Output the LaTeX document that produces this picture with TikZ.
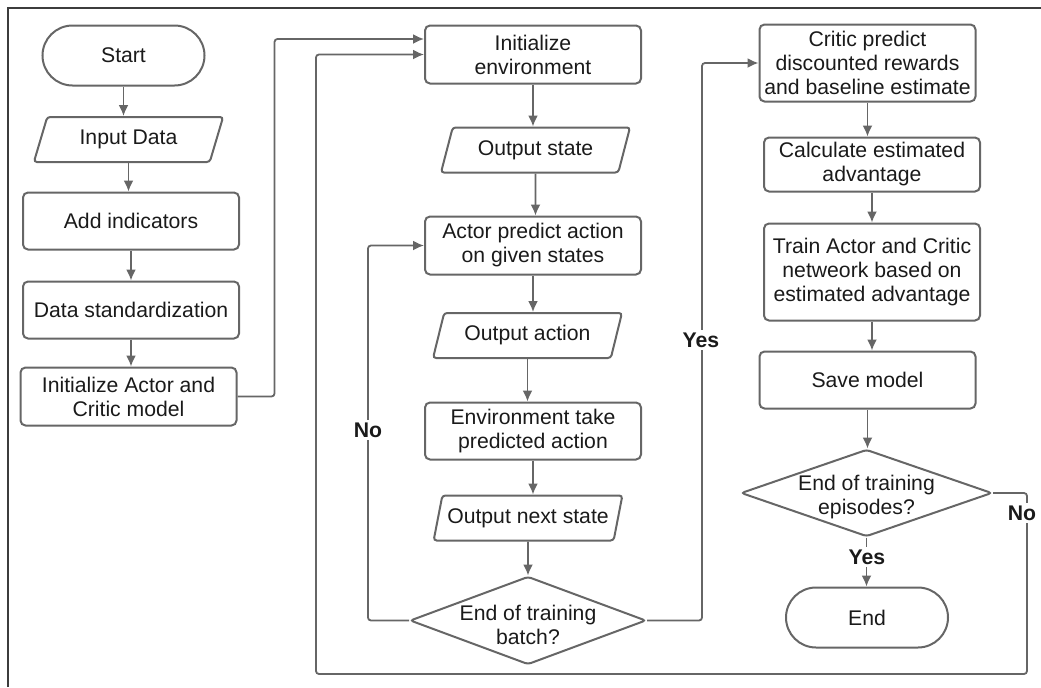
\documentclass[tikz,border=0pt]{standalone}
\usepackage{fontspec}
\setmainfont{Liberation Sans}
\usetikzlibrary{shapes.geometric, arrows.meta}
\newcommand{\flowfont}{\fontsize{10.6pt}{12pt}\selectfont}
\definecolor{linegray}{HTML}{666666}
\definecolor{framegray}{HTML}{3C3C3C}
\definecolor{textgray}{HTML}{1A1A1A}
\tikzset{
    box/.style={draw=linegray, line width=1pt, rounded corners=2.5pt, align=center,
        text=textgray, font=\flowfont, inner sep=1pt},
    terminal/.style={box, rounded corners=15pt, minimum width=81pt, minimum height=30pt},
    process/.style={box, minimum width=108pt, minimum height=28.5pt},
    io/.style={box, trapezium, trapezium left angle=70, trapezium right angle=110,
        trapezium stretches=true, minimum width=95pt, minimum height=22.5pt, rounded corners=1.5pt},
    decision/.style={box, diamond, inner sep=0pt, rounded corners=1.5pt},
    dtext/.style={align=center, font=\flowfont, text=textgray, yshift=-2pt},
    answer/.style={font=\flowfont\bfseries, text=textgray, fill=white, inner sep=1.5pt},
    flow/.style={draw=linegray, line width=0.9pt, rounded corners=1.5pt,
        -{Latex[length=5.5pt,width=5pt]}},
}

\begin{document}
\begin{tikzpicture}[x=0.5pt, y=-0.5pt]
        \useasboundingbox (0,0) rectangle (1041,687);
        % frame
        \draw[framegray, line width=0.9pt] (8,687) -- (8,8) -- (1041,8);
        % data preparation
        \node[terminal] (start) at (123.5,55.5) {Start};
        \node[io] (input) at (128.5,139.5) {Input Data};
        \node[process] (add) at (131,221) {Add indicators};
        \node[process] (data) at (131,310) {Data standardization};
        \node[process, minimum height=29pt] (init) at (128.5,396.5) {Initialize Actor and\\Critic model};
        % training batch loop
        \node[process, minimum height=29pt] (env) at (533,54.5) {Initialize\\environment};
        \node[io] (outstate) at (535.5,150) {Output state};
        \node[process, minimum height=29pt] (actor) at (533,245.5) {Actor predict action\\on given states};
        \node[io] (outaction) at (527.5,335.5) {Output action};
        \node[process] (envtake) at (533,431) {Environment take\\predicted action};
        \node[io] (nextstate) at (528,518) {Output next state};
        \node[decision, minimum width=118pt, minimum height=44pt,
            label={[dtext]center:End of training\\batch?}] (batch) at (528,620.5) {};
        % update of the networks
        \node[process, minimum height=38.5pt] (critic) at (867.5,63) {Critic predict\\discounted rewards\\and baseline estimate};
        \node[process, minimum height=27pt] (calc) at (872,164.5) {Calculate estimated\\advantage};
        \node[process, minimum height=48.5pt] (train) at (872,272) {Train Actor and Critic\\netweork based on\\estimated advantage};
        \node[process] (save) at (867.5,380) {Save model};
        \node[decision, minimum width=125.5pt, minimum height=43.5pt,
            label={[dtext]center:End of training\\episodes?}] (episodes) at (866.5,493) {};
        \node[terminal] (end) at (867,617.5) {End};
        % straight arrows
        \foreach \a/\b in {start/input, input/add, add/data, data/init,
            env/outstate, outstate/actor, actor/outaction, outaction/envtake,
            envtake/nextstate, nextstate/batch,
            critic/calc, calc/train, train/save, save/episodes, episodes/end}
            \draw[flow] (\a) -- (\a |- \b.north);
        % loops back
        \draw[flow] (init.east) -- ++(37,0) |- ([yshift=7.75pt]env.west);
        \draw[flow] (batch.west) -- ++(-41,0) |- (actor.west);
        \draw[flow] (batch.east) -- ++(55,0) |- (critic.west);
        \draw[flow] (episodes.east) -- ++(34,0) -- ++(0,181) -| ([xshift=-54pt]env.west) -- (env.west);
        % answers
        \node[answer] (nobatch) at (368,430) {No};
        \node[answer] (yesbatch) at (701,340) {Yes};
        \node[answer] (yesepisodes) at (867,557) {Yes};
        \node[answer] (noepisodes) at (1022,513) {No};
\end{tikzpicture}
\end{document}
